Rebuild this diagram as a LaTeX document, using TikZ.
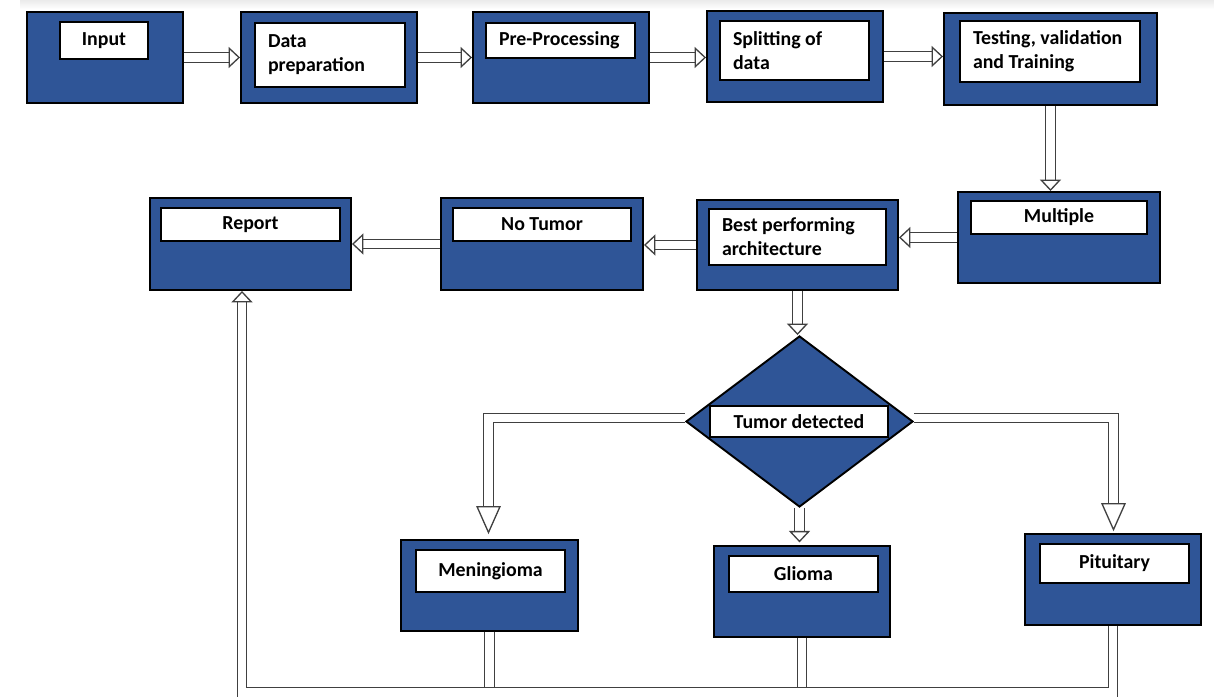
\documentclass[tikz,border=0pt]{standalone}
\usepackage{fontspec}
\setmainfont{Carlito}
\usetikzlibrary{shapes.geometric,arrows.meta}
\definecolor{boxblue}{RGB}{47,85,151}
\tikzset{
  blk/.style 2 args={draw, line width=1.1pt, fill=boxblue, inner sep=0pt,
    minimum width=#1*0.02cm, minimum height=#2*0.02cm},
  lab/.style 2 args={draw, line width=0.8pt, fill=white, inner sep=0pt,
    minimum width=#1*0.02cm, minimum height=#2*0.02cm,
    font=\bfseries\fontsize{11.3}{13.6}\selectfont},
  labl/.style={align=flush left, inner xsep=0.26cm},
  pipe/.style={draw=black!75, line width=0.75pt, double=white, double distance=4.6pt},
  flow/.style={pipe, -{Triangle[open, fill=white, length=6.5pt, width=12pt, line width=0.75pt]}},
  bigflow/.style={pipe, -{Triangle[open, fill=white, length=16pt, width=14pt, line width=0.75pt]}},
}
\begin{document}
\begin{tikzpicture}
    \def\x{0.02}
    \def\y{-0.02}
    \useasboundingbox (0,0) rectangle (1214*\x, 697*\y);
    \clip (0,0) rectangle (1214*\x, 697*\y);
    \shade[top color=black!8, bottom color=white] (20*\x, 0*\y) rectangle (1214*\x, 9*\y);
    \node[blk={156}{91}] (A0_0) at (105*\x, 57.5*\y) {};
    \node[blk={176}{91}] (A0_1) at (329*\x, 57.5*\y) {};
    \node[blk={176}{91}] (A0_2) at (561*\x, 57.5*\y) {};
    \node[blk={176}{91}] (A0_3) at (795*\x, 56.5*\y) {};
    \node[blk={213}{92}] (A0_4) at (1050.5*\x, 59*\y) {};
    \node[blk={202}{91}] (A1_3) at (1059*\x, 237.5*\y) {};
    \node[blk={201}{90}] (A1_2) at (797.5*\x, 245*\y) {};
    \node[blk={202}{92}] (A1_1) at (542*\x, 244*\y) {};
    \node[blk={201}{92}] (A1_0) at (250.5*\x, 244*\y) {};
    \node[diamond, draw, line width=1.1pt, fill=boxblue, inner sep=0pt,
      minimum width=227*0.02cm, minimum height=171*0.02cm] (A2_2) at (799.5*\x, 421.5*\y) {};
    \node[blk={177}{91}] (A3_0) at (489.5*\x, 585.5*\y) {};
    \node[blk={176}{91}] (A3_1) at (802*\x, 591.5*\y) {};
    \node[blk={176}{91}] (A3_2) at (1113*\x, 579.5*\y) {};
    \node[lab={88}{37}] (T0_0) at (104*\x, 40.5*\y) {Input};
    \node[lab={150}{64}, labl, text width=2.48cm] (T0_1) at (330*\x, 55*\y) {Data\\preparation};
    \node[lab={149}{35}, labl, text width=2.46cm] (T0_2) at (560.5*\x, 40.5*\y) {Pre-Processing};
    \node[lab={149}{59}, labl, text width=2.46cm] (T0_3) at (794.5*\x, 50.5*\y) {Splitting of\\data};
    \node[lab={180}{61}, labl, text width=3.08cm] (T0_4) at (1050*\x, 51.5*\y) {Testing, validation\\and Training};
    \node[lab={176}{33}] (T1_3) at (1059*\x, 217.5*\y) {Multiple};
    \node[lab={177}{56}, labl, text width=3.02cm] (T1_2) at (797.5*\x, 237*\y) {Best performing\\architecture};
    \node[lab={178}{33}] (T1_1) at (542*\x, 224.5*\y) {No Tumor};
    \node[lab={179}{33}] (T1_0) at (250.5*\x, 224.5*\y) {Report};
    \node[lab={178}{31}] (T2_2) at (799*\x, 421.5*\y) {Tumor detected};
    \node[lab={149}{42}] (T3_0) at (490.5*\x, 571*\y) {Meningioma};
    \node[lab={149}{36}] (T3_1) at (803.5*\x, 574*\y) {Glioma};
    \node[lab={149}{39}] (T3_2) at (1114.5*\x, 563.5*\y) {Pituitary};
    \coordinate (L) at (488.5*\x, 418*\y);
    \coordinate (R) at (1113.5*\x, 418*\y);
    \coordinate (B) at (242*\x, 692.5*\y);
    \draw[flow] (A0_0.east) -- (A0_0.east -| A0_1.west);
    \draw[flow] (A0_1.east) -- (A0_1.east -| A0_2.west);
    \draw[flow] (A0_2.east) -- (A0_2.east -| A0_3.west);
    \draw[flow] (A0_3.east) -- (A0_3.east -| A0_4.west);
    \draw[flow] (A0_4.south) -- (A0_4.south |- A1_3.north);
    \draw[flow] (A1_3.west) -- (A1_3.west -| A1_2.east);
    \draw[flow] (A1_2.west) -- (A1_2.west -| A1_1.east);
    \draw[flow] (A1_1.west) -- (A1_1.west -| A1_0.east);
    \draw[flow] (A1_2.south) -- (A1_2.south |- A2_2.north);
    \draw[bigflow, shorten >=2.8pt] (A2_2.west |- L) -- (L) -- (L |- A3_0.north);
    \draw[bigflow, shorten >=1pt] (A2_2.east |- R) -- (R) -- (R |- A3_2.north);
    \draw[flow, shorten >=1.5pt] (A2_2.south) -- (A2_2.south |- A3_1.north);
    \draw[pipe] (A3_0.south) -- (A3_0.south |- B);
    \draw[pipe] (A3_1.south) -- (A3_1.south |- B);
    \draw[flow] (A3_2.south) -- (A3_2.south |- B) -- (B) -- (B |- A1_0.south);
\end{tikzpicture}
\end{document}
